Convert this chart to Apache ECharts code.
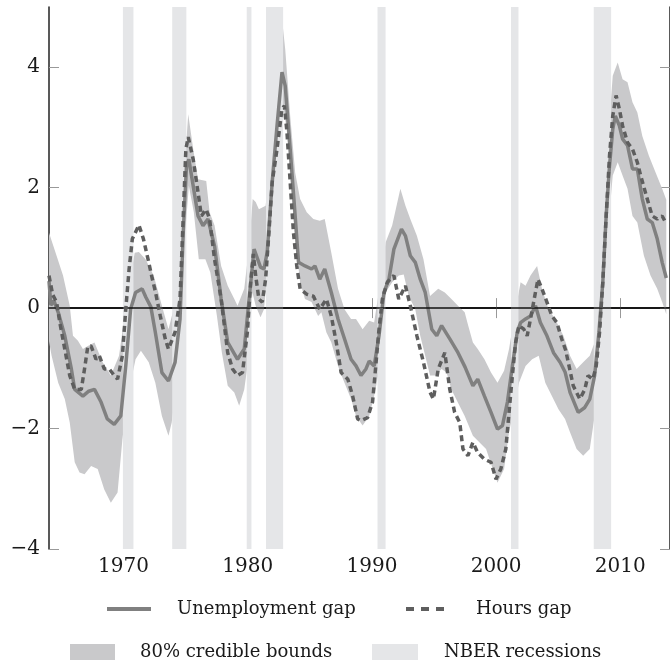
<!DOCTYPE html>
<html>
<head>
<meta charset="utf-8">
<script src="https://cdn.jsdelivr.net/npm/echarts@6/dist/echarts.min.js"></script>
<style>html,body{margin:0;padding:0;background:#fff}#c{width:670px;height:660px}</style>
</head>
<body>
<div id="c"></div>
<script>
const X_MIN = 1964, X_MAX = 2014, Y_MIN = -4, Y_MAX = 5;
const xTicks = [1970, 1980, 1990, 2000, 2010];
const yTicks = [-4, -2, 0, 2, 4];

const unemploymentGap = [
  [1964.0,0.45],[1964.15,0.05],[1964.4,0.12],[1964.74,-0.07],[1965.27,-0.46],[1965.8,-1.01],
  [1966.07,-1.35],[1966.73,-1.46],[1967.2,-1.38],[1967.66,-1.35],[1968.19,-1.56],[1968.69,-1.84],
  [1969.25,-1.93],[1969.78,-1.79],[1970.18,-0.96],[1970.57,-0.02],[1970.97,0.26],[1971.5,0.32],
  [1971.8,0.18],[1972.2,0.02],[1972.56,-0.40],[1973.09,-1.07],[1973.62,-1.21],[1974.15,-0.9],
  [1974.55,-0.18],[1974.81,1.26],[1975.07,2.36],[1975.26,2.47],[1975.61,2.03],[1976.0,1.53],
  [1976.4,1.37],[1976.8,1.48],[1977.33,1.03],[1977.86,0.15],[1978.39,-0.57],[1979.18,-0.85],
  [1979.72,-0.68],[1980.11,0.15],[1980.51,0.98],[1981.03,0.68],[1981.31,0.65],[1981.57,0.93],
  [1981.97,2.09],[1982.36,3.03],[1982.76,3.92],[1983.02,3.69],[1983.42,2.64],[1983.82,1.53],
  [1984.09,0.76],[1984.61,0.70],[1985.14,0.65],[1985.41,0.70],[1985.8,0.48],[1986.2,0.65],
  [1986.73,0.26],[1987.27,-0.18],[1987.79,-0.51],[1988.32,-0.85],[1988.72,-0.96],[1989.12,-1.12],
  [1989.52,-1.01],[1989.78,-0.88],[1990.18,-0.96],[1990.57,-0.46],[1990.97,0.26],[1991.37,0.48],
  [1991.77,0.98],[1992.38,1.31],[1992.7,1.20],[1993.09,0.87],[1993.49,0.76],[1993.89,0.48],
  [1994.29,0.26],[1994.82,-0.35],[1995.22,-0.46],[1995.61,-0.29],[1996.27,-0.51],[1996.93,-0.74],
  [1997.5,-0.98],[1998.13,-1.29],[1998.52,-1.18],[1999.06,-1.46],[1999.59,-1.73],[2000.11,-2.01],
  [2000.51,-1.95],[2000.91,-1.56],[2001.31,-0.96],[2001.7,-0.40],[2001.97,-0.24],[2002.37,-0.18],
  [2002.77,-0.13],[2003.17,0.04],[2003.56,-0.24],[2004.09,-0.46],[2004.62,-0.74],[2005.15,-0.90],
  [2005.55,-1.06],[2005.95,-1.40],[2006.61,-1.73],[2007.14,-1.65],[2007.54,-1.51],[2007.93,-1.12],
  [2008.28,-0.40],[2008.59,0.43],[2008.86,1.53],[2009.13,2.36],[2009.39,2.97],[2009.6,3.19],
  [2009.92,3.03],[2010.18,2.81],[2010.58,2.70],[2010.98,2.31],[2011.37,2.31],[2011.77,1.81],
  [2012.17,1.48],[2012.57,1.42],[2012.97,1.15],[2013.37,0.76],[2013.7,0.5]
];

const hoursGap = [
  [1964.0,0.54],[1964.3,0.22],[1964.61,0.10],[1964.87,-0.24],[1965.27,-0.68],[1965.67,-1.12],
  [1966.07,-1.35],[1966.6,-1.35],[1966.86,-1.01],[1967.13,-0.63],[1967.39,-0.63],[1967.79,-0.85],
  [1968.05,-0.79],[1968.45,-1.01],[1968.85,-1.01],[1969.25,-1.12],[1969.52,-1.18],[1969.91,-0.79],
  [1970.18,-0.02],[1970.45,0.65],[1970.71,1.15],[1971.24,1.38],[1971.6,1.15],[1972.03,0.76],
  [1972.3,0.50],[1972.56,0.28],[1972.96,-0.13],[1973.36,-0.51],[1973.62,-0.68],[1974.15,-0.40],
  [1974.55,0.15],[1974.81,1.53],[1975.02,2.64],[1975.21,2.84],[1975.61,2.47],[1976.0,1.92],
  [1976.27,1.53],[1976.66,1.64],[1976.93,1.48],[1977.33,0.81],[1977.86,0.15],[1978.39,-0.74],
  [1978.78,-1.01],[1979.18,-1.12],[1979.58,-1.07],[1979.97,-0.40],[1980.24,0.43],[1980.45,0.9],
  [1980.64,0.54],[1980.9,0.15],[1981.17,0.10],[1981.44,0.48],[1981.71,1.26],[1981.97,2.09],
  [1982.36,2.64],[1982.76,3.31],[1982.95,3.36],[1983.16,2.92],[1983.42,2.09],[1983.68,1.26],
  [1983.95,0.70],[1984.22,0.32],[1984.75,0.23],[1985.28,0.20],[1985.8,-0.02],[1986.34,0.15],
  [1986.73,-0.13],[1987.13,-0.57],[1987.52,-1.07],[1988.06,-1.18],[1988.45,-1.46],[1988.85,-1.84],
  [1989.12,-1.87],[1989.65,-1.82],[1990.05,-1.56],[1990.31,-0.96],[1990.57,-0.35],[1990.84,0.15],
  [1991.24,0.43],[1991.77,0.54],[1992.16,0.15],[1992.7,0.37],[1993.09,0.04],[1993.62,-0.46],
  [1994.15,-0.90],[1994.68,-1.40],[1994.95,-1.51],[1995.34,-1.01],[1995.87,-0.74],[1996.27,-1.35],
  [1996.66,-1.73],[1997.07,-1.90],[1997.33,-2.34],[1997.73,-2.45],[1998.13,-2.23],[1998.52,-2.40],
  [1999.06,-2.51],[1999.59,-2.56],[1999.99,-2.84],[2000.38,-2.67],[2000.78,-2.34],[2001.04,-1.73],
  [2001.31,-1.12],[2001.57,-0.57],[2001.84,-0.29],[2002.23,-0.35],[2002.5,-0.46],[2002.77,-0.18],
  [2003.11,0.20],[2003.37,0.48],[2003.69,0.32],[2004.09,0.10],[2004.49,-0.13],[2004.89,-0.24],
  [2005.28,-0.51],[2005.6,-0.70],[2005.81,-0.90],[2006.21,-1.29],[2006.74,-1.51],[2007.14,-1.35],
  [2007.4,-1.12],[2007.79,-1.18],[2008.06,-0.96],[2008.33,-0.40],[2008.59,0.43],[2008.86,1.53],
  [2009.13,2.53],[2009.39,3.19],[2009.66,3.53],[2009.92,3.31],[2010.18,3.03],[2010.58,2.75],
  [2010.98,2.64],[2011.37,2.42],[2011.64,2.20],[2012.17,1.81],[2012.57,1.53],[2012.97,1.48],
  [2013.37,1.53],[2013.7,1.4]
];

const bandUpper = [
  [1964.0,1.25],[1964.08,1.20],[1964.61,0.87],[1965.13,0.54],[1965.67,0.04],[1965.93,-0.46],
  [1966.33,-0.54],[1966.73,-0.68],[1967.13,-0.63],[1967.66,-0.57],[1968.32,-0.90],[1968.98,-1.12],
  [1969.64,-0.79],[1970.3,0.2],[1970.9,0.92],[1971.24,0.93],[1971.77,0.81],[1972.43,0.54],
  [1973.09,0.04],[1973.62,-0.35],[1974.3,0.2],[1974.8,2.0],[1975.21,3.22],[1975.61,2.64],
  [1976.0,2.14],[1976.66,2.11],[1976.93,1.59],[1977.33,1.37],[1977.86,0.70],[1978.39,0.37],
  [1978.92,0.15],[1979.18,0.04],[1979.72,0.32],[1980.1,1.0],[1980.4,1.81],[1980.64,1.76],
  [1980.9,1.64],[1981.44,1.70],[1982.0,2.7],[1982.4,3.8],[1982.76,4.80],[1983.02,4.30],
  [1983.42,3.19],[1983.82,2.25],[1984.22,1.81],[1984.75,1.59],[1985.28,1.48],[1985.8,1.45],
  [1986.2,1.48],[1986.73,0.92],[1987.27,0.32],[1987.79,-0.02],[1988.32,-0.18],[1988.72,-0.18],
  [1989.25,-0.35],[1989.78,-0.21],[1990.18,-0.24],[1990.8,0.6],[1991.1,1.09],[1991.63,1.37],
  [1992.29,1.98],[1992.7,1.70],[1993.09,1.48],[1993.62,1.20],[1994.15,0.81],[1994.68,0.20],
  [1995.34,0.32],[1995.87,0.26],[1996.4,0.15],[1996.93,0.04],[1997.47,-0.07],[1997.75,-0.29],
  [1998.13,-0.57],[1998.52,-0.68],[1999.06,-0.85],[1999.59,-1.07],[2000.11,-1.24],[2000.64,-1.04],
  [2001.04,-0.68],[2001.5,-0.1],[2001.97,0.43],[2002.37,0.37],[2002.77,0.54],[2003.3,0.70],
  [2003.69,0.32],[2004.22,-0.02],[2004.75,-0.18],[2005.15,-0.35],[2005.42,-0.46],[2005.95,-0.79],
  [2006.48,-1.01],[2007.01,-0.90],[2007.54,-0.79],[2007.93,-0.57],[2008.3,0.0],[2008.8,2.2],
  [2009.39,3.86],[2009.79,4.08],[2010.18,3.80],[2010.58,3.75],[2010.98,3.42],[2011.37,3.25],
  [2011.77,2.86],[2012.3,2.53],[2012.84,2.25],[2013.37,1.98],[2013.7,1.8]
];

const bandLower = [
  [1964.0,-0.55],[1964.21,-0.79],[1964.74,-1.24],[1965.27,-1.51],[1965.67,-1.90],[1966.07,-2.56],
  [1966.46,-2.73],[1966.86,-2.76],[1967.39,-2.62],[1967.92,-2.67],[1968.45,-3.01],[1968.98,-3.23],
  [1969.52,-3.06],[1969.91,-2.18],[1970.3,-1.5],[1970.97,-0.85],[1971.4,-0.71],[1972.03,-0.90],
  [1972.56,-1.24],[1973.09,-1.79],[1973.62,-2.12],[1973.88,-1.90],[1974.3,-1.2],[1974.8,0.8],
  [1975.26,2.03],[1975.66,1.59],[1976.06,0.81],[1976.59,0.81],[1976.99,0.59],[1977.52,-0.13],
  [1977.92,-0.74],[1978.39,-1.29],[1978.92,-1.40],[1979.31,-1.62],[1979.72,-1.35],[1979.98,-0.96],
  [1980.38,0.26],[1980.64,0.04],[1981.03,-0.15],[1981.31,-0.02],[1982.0,1.5],[1982.5,2.8],
  [1982.9,3.31],[1983.16,2.92],[1983.55,1.81],[1983.95,0.92],[1984.22,0.43],[1984.61,0.15],
  [1985.14,0.10],[1985.67,-0.13],[1985.93,-0.07],[1986.33,-0.40],[1986.73,-0.57],[1987.27,-0.96],
  [1987.79,-1.24],[1988.32,-1.51],[1988.72,-1.79],[1989.25,-1.95],[1989.78,-1.79],[1990.18,-1.46],
  [1990.8,-0.8],[1991.1,0.26],[1991.63,0.43],[1992.16,0.54],[1992.56,0.56],[1992.96,0.20],
  [1993.49,-0.02],[1993.89,-0.46],[1994.29,-0.79],[1994.68,-1.12],[1995.08,-1.12],[1995.61,-1.01],
  [1996.01,-1.07],[1996.4,-1.35],[1996.93,-1.57],[1997.47,-1.79],[1998.13,-2.12],[1999.19,-2.34],
  [2000.11,-2.90],[2000.64,-2.67],[2001.04,-2.06],[2001.5,-1.6],[2001.84,-1.24],[2002.37,-0.96],
  [2002.9,-0.85],[2003.43,-0.79],[2003.96,-1.24],[2004.49,-1.46],[2005.02,-1.68],[2005.55,-1.84],
  [2005.95,-2.06],[2006.48,-2.34],[2007.01,-2.45],[2007.54,-2.34],[2007.93,-1.79],[2008.3,-0.9],
  [2008.8,0.8],[2009.39,2.20],[2009.79,2.42],[2010.18,2.20],[2010.58,1.98],[2010.98,1.53],
  [2011.37,1.42],[2011.9,0.87],[2012.43,0.54],[2012.97,0.32],[2013.37,0.10],[2013.7,-0.1]
];

const recessions = [
  [1969.95,1970.8],[1973.92,1975.06],[1979.92,1980.3],[1981.47,1982.85],
  [1990.45,1991.1],[2001.2,2001.8],[2007.86,2009.26]
];

const FONT = 'DejaVu Serif';
const C_BAND = '#c9c9cb', C_REC = '#e5e6e8', C_UN = '#808080', C_HR = '#5e5e5e';

const chart = echarts.init(document.getElementById('c'), null, {renderer: 'canvas'});
const fmtMinus = v => String(v).replace('-', '\u2212');
const axisLine = {show: true, lineStyle: {color: '#222', width: 1.5}};
const tick = vals => ({show: true, inside: true, length: 10, customValues: vals, lineStyle: {color: '#999', width: 1}});

const legendText = pad => ({fontFamily: FONT, fontSize: 18, color: '#1a1a1a', padding: [0, 0, 0, pad]});

chart.setOption({
  animation: false,
  backgroundColor: '#fff',
  grid: {left: 49, top: 7, width: 629, height: 542, containLabel: false},
  xAxis: [
    {type: 'value', min: X_MIN, max: X_MAX, position: 'bottom', axisLine,
     axisTick: tick(xTicks), splitLine: {show: false},
     axisLabel: {customValues: xTicks, margin: 8, fontFamily: FONT, fontSize: 20, color: '#1a1a1a', formatter: v => String(v)}},
    {type: 'value', min: X_MIN, max: X_MAX, position: 'top', axisLine,
     axisTick: tick(xTicks), splitLine: {show: false}, axisLabel: {show: false}}
  ],
  yAxis: [
    {type: 'value', min: Y_MIN, max: Y_MAX, position: 'left', axisLine,
     axisTick: tick(yTicks), splitLine: {show: false},
     axisLabel: {customValues: yTicks, margin: 9, fontFamily: FONT, fontSize: 20, color: '#1a1a1a', formatter: fmtMinus}},
    {type: 'value', min: Y_MIN, max: Y_MAX, position: 'right', axisLine,
     axisTick: tick(yTicks), splitLine: {show: false}, axisLabel: {show: false}}
  ],
  legend: [
    {data: ['Unemployment gap'], left: 100, top: 595, itemWidth: 44, itemHeight: 14,
     itemStyle: {opacity: 0}, lineStyle: {width: 4, color: C_UN, type: 'solid'}, textStyle: legendText(21)},
    {data: ['Hours gap'], left: 399, top: 595, itemWidth: 40, itemHeight: 14,
     itemStyle: {opacity: 0}, lineStyle: {width: 4, color: C_HR, type: [8, 7]}, textStyle: legendText(25)},
    {data: [{name: '80% credible bounds', icon: 'rect'}], left: 65, top: 638, itemWidth: 45, itemHeight: 16, textStyle: legendText(20)},
    {data: [{name: 'NBER recessions', icon: 'rect'}], left: 367, top: 638, itemWidth: 46, itemHeight: 16, textStyle: legendText(21)}
  ],
  series: [
    {
      name: '80% credible bounds', type: 'custom', z: 1, silent: true,
      itemStyle: {color: C_BAND},
      data: [[X_MIN, 0]],
      renderItem: (params, api) => {
        const pts = bandUpper.map(p => api.coord(p))
          .concat(bandLower.slice().reverse().map(p => api.coord(p)));
        return {type: 'polygon', shape: {points: pts}, style: {fill: C_BAND}};
      }
    },
    {
      name: 'NBER recessions', type: 'custom', z: 2, silent: true,
      itemStyle: {color: C_REC},
      encode: {x: [0, 1]},
      data: recessions,
      renderItem: (params, api) => {
        const a = api.coord([api.value(0), Y_MAX]);
        const b = api.coord([api.value(1), Y_MIN]);
        return {type: 'rect', shape: {x: a[0], y: a[1], width: b[0] - a[0], height: b[1] - a[1]}, style: {fill: C_REC}};
      }
    },
    {
      name: 'zero', type: 'line', z: 3, data: [], silent: true,
      markLine: {silent: true, symbol: 'none', label: {show: false},
        lineStyle: {color: '#111', width: 1.5, type: 'solid'}, data: [{yAxis: 0}]}
    },
    {
      name: 'Unemployment gap', type: 'line', z: 4, showSymbol: false, symbol: 'none',
      data: unemploymentGap, lineStyle: {color: C_UN, width: 3.5}, itemStyle: {color: C_UN}
    },
    {
      name: 'Hours gap', type: 'line', z: 5, showSymbol: false, symbol: 'none',
      data: hoursGap, lineStyle: {color: C_HR, width: 3.5, type: [6, 4]}, itemStyle: {color: C_HR}
    }
  ]
});
</script>
</body>
</html>
